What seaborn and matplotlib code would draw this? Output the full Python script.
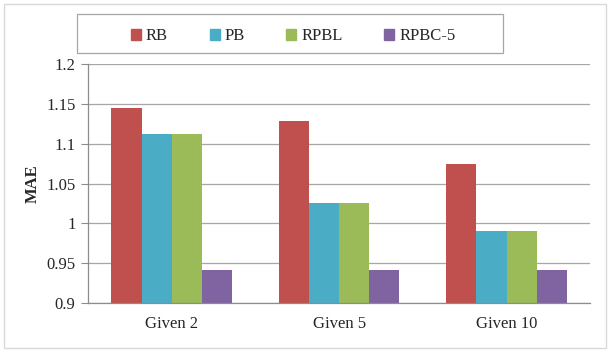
import pandas as pd
import matplotlib.pyplot as plt
import seaborn as sns
from matplotlib.patches import Rectangle

# Données
groupes = ['Given 2', 'Given 5', 'Given 10']
methodes = ['RB', 'PB', 'RPBL', 'RPBC-5']
mae_rb = [1.145, 1.129, 1.074]
mae_pb = [1.112, 1.025, 0.990]
mae_rpbl = [1.112, 1.025, 0.990]
mae_rpbc5 = [0.942, 0.942, 0.942]
couleurs = ['#C0504D', '#4BACC6', '#9BBB59', '#8064A2']

data = pd.DataFrame({
    'Groupe': groupes * 4,
    'Methode': [m for m in methodes for _ in groupes],
    'MAE': mae_rb + mae_pb + mae_rpbl + mae_rpbc5,
})

sns.set_style('white')
plt.rcParams['font.family'] = ['Liberation Serif', 'DejaVu Serif']
serif = ['Liberation Serif', 'DejaVu Serif']

fig = plt.figure(figsize=(6.11, 3.52), dpi=100)
ax = fig.add_axes([0.144, 0.139, 0.822, 0.679])

sns.barplot(data=data, x='Groupe', y='MAE', hue='Methode', order=groupes,
            hue_order=methodes, palette=couleurs, width=0.72, ax=ax,
            saturation=1, linewidth=0, legend=False)

ax.set_ylim(0.9, 1.2)
ax.set_yticks([0.9, 0.95, 1.0, 1.05, 1.1, 1.15, 1.2])
ax.set_yticklabels(['0.9', '0.95', '1', '1.05', '1.1', '1.15', '1.2'], family=serif)
ax.set_xticks(range(len(groupes)))
ax.set_xticklabels(groupes, family=serif)
ax.yaxis.grid(True, color='#A6A6A6', linewidth=0.9)
ax.set_axisbelow(True)
for s in ['top', 'right']:
    ax.spines[s].set_visible(False)
for s in ['left', 'bottom']:
    ax.spines[s].set_color('#8C8C8C')
    ax.spines[s].set_linewidth(0.9)
ax.tick_params(axis='y', left=True, length=5, color='#8C8C8C', labelsize=12, pad=4)
ax.tick_params(axis='x', bottom=False, labelsize=12, pad=6)
ax.set_xlabel('')
ax.set_ylabel('MAE', fontweight='bold', fontsize=12, labelpad=4, family=serif)

# Légende en haut, dans un cadre plus large que son contenu
handles = [Rectangle((0, 0), 1, 1, color=c) for c in couleurs]
fig.legend(handles, methodes, loc='center', bbox_to_anchor=(0.48, 0.897),
           ncol=4, frameon=False, prop={'family': serif, 'size': 12},
           handlelength=0.6, handleheight=0.6, handletextpad=0.3,
           columnspacing=2.5)
fig.patches.append(Rectangle((77 / 611, 1 - 53 / 352), 426 / 611, 39 / 352,
                             transform=fig.transFigure, fill=False,
                             edgecolor='#A6A6A6', linewidth=0.9))

# Cadre extérieur
fig.patches.append(Rectangle((0.006, 0.012), 0.986, 0.976, transform=fig.transFigure,
                             fill=False, edgecolor='#D9D9D9', linewidth=1))

fig.savefig('out.png', dpi=100)
